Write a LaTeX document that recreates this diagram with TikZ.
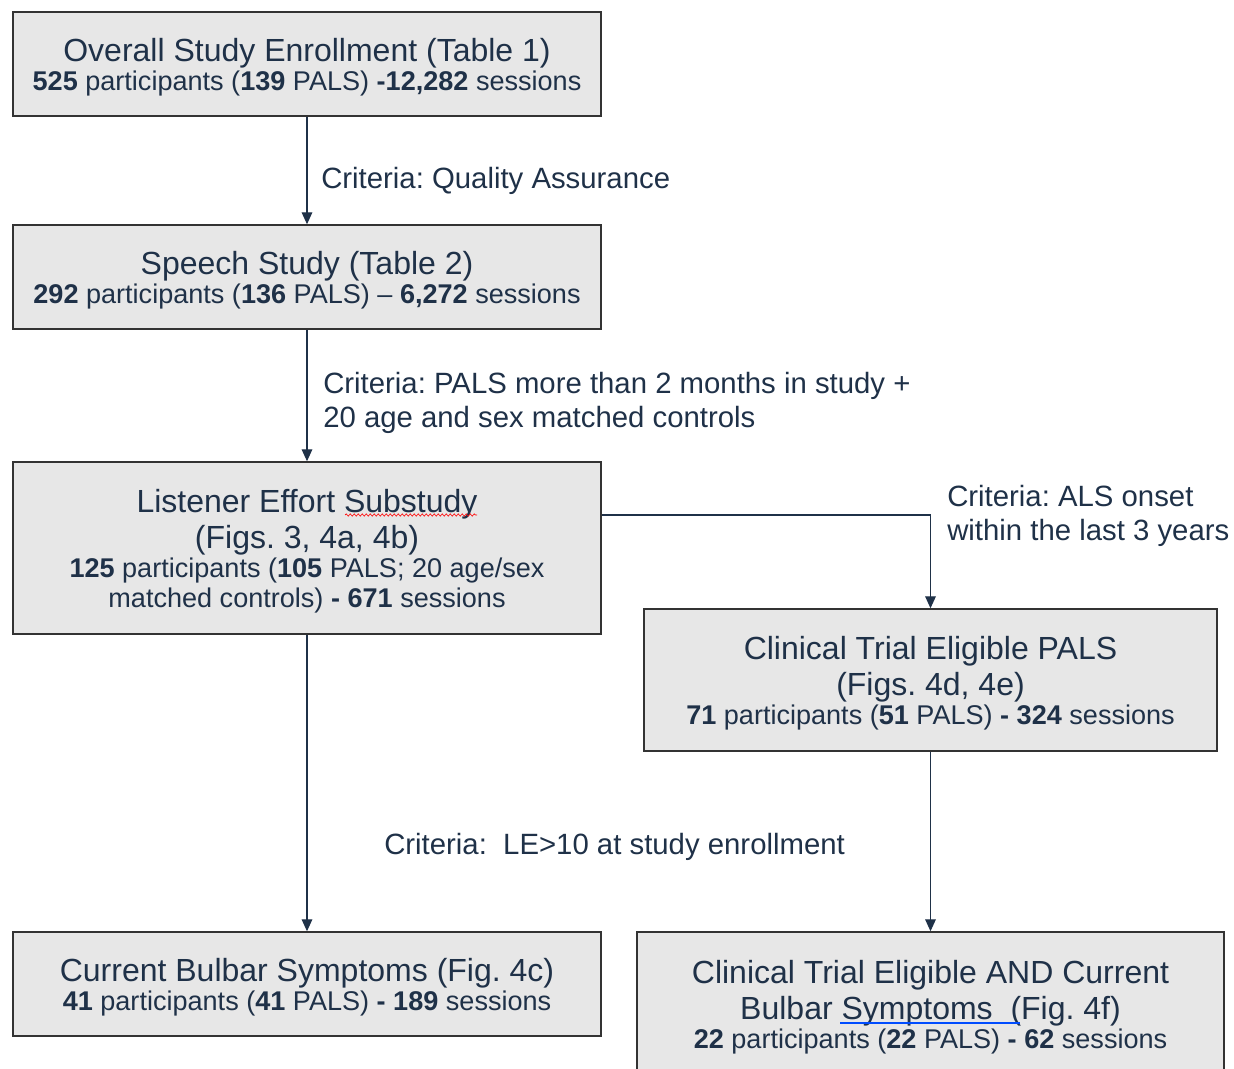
\documentclass[tikz,border=0pt]{standalone}
\usepackage{fontspec}
\setmainfont{Liberation Sans}
\usetikzlibrary{arrows.meta,decorations.pathmorphing}
\frenchspacing

\definecolor{navy}{HTML}{1F3148}
\definecolor{boxgray}{HTML}{E7E7E7}
\definecolor{edgegray}{HTML}{333333}

\newcommand{\boxhead}[1]{{\fontsize{24}{27}\selectfont #1}}
\newcommand{\topstrut}{\rule{0pt}{22pt}}

\tikzset{
  stage/.style={draw=edgegray, line width=1.1pt, fill=boxgray, text=navy,
    align=center, inner sep=0pt, font=\fontsize{20.3}{22.5}\selectfont},
  flow/.style={navy, line width=0.9pt, -{Triangle[length=9pt,width=8pt]}},
  crit/.style={text=navy, anchor=west, align=left, inner sep=0pt,
    font=\fontsize{22}{25.5}\selectfont}
}

\begin{document}
\begin{tikzpicture}[x=0.75pt,y=-0.75pt]
  \useasboundingbox (0,0) rectangle (1234,1069);

  % left column
  \node[stage, minimum width=441pt, minimum height=78pt] (ovr) at (307,64)
    {\topstrut\boxhead{Overall Study Enrollment (Table 1)}\\[-1pt]
     \textbf{525} participants (\textbf{139} PALS) \textbf{-12,282} sessions};
  \node[stage, minimum width=441pt, minimum height=78pt] (spch) at (307,277)
    {\topstrut\boxhead{Speech Study (Table 2)}\\[-1pt]
     \textbf{292} participants (\textbf{136} PALS) -- \textbf{6,272} sessions};
  \node[stage, minimum width=441pt, minimum height=129pt] (lis) at (307,548)
    {\topstrut\boxhead{Listener Effort Substudy}\\[5pt]
     \boxhead{(Figs. 3, 4a, 4b)}\\[-1pt]
     \textbf{125} participants (\textbf{105} PALS; 20 age/sex\\
     matched controls) \textbf{-} \textbf{671} sessions};
  \node[stage, minimum width=441pt, minimum height=78pt] (blb) at (307,984)
    {\topstrut\boxhead{Current Bulbar Symptoms (Fig. 4c)}\\[-1pt]
     \textbf{41} participants (\textbf{41} PALS) \textbf{-} \textbf{189} sessions};

  % right column
  \node[stage, minimum width=429.75pt, minimum height=106.5pt] (clin) at (930.5,680)
    {\topstrut\boxhead{Clinical Trial Eligible PALS}\\[5pt]
     \boxhead{(Figs. 4d, 4e)}\\[-1pt]
     \textbf{71} participants (\textbf{51} PALS) \textbf{-} \textbf{324} sessions};
  \node[stage, minimum width=440.25pt, minimum height=108pt] (both) at (930.5,1004)
    {\topstrut\boxhead{Clinical Trial Eligible AND Current}\\[5pt]
     \boxhead{Bulbar Symptoms\ \ (Fig. 4f)}\\[-1pt]
     \textbf{22} participants (\textbf{22} PALS) \textbf{-} \textbf{62} sessions};

  % criteria
  \node[crit] (qa) at (321,181) {Criteria: Quality Assurance};
  \node[crit] (pm) at (323,403) {Criteria: PALS more than 2 months in study +\\
    20 age and sex matched controls};
  \node[crit] (on) at (947,516) {Criteria: ALS onset\\within the last 3 years};
  \node[crit] (le) at (384,847) {Criteria:\ \ LE>10 at study enrollment};

  % connectors
  \draw[flow] (ovr) -- (spch);
  \draw[flow] (spch) -- (lis);
  \draw[flow] (lis) -- (blb);
  \draw[flow] ([yshift=24.75pt]lis.east) -| (clin.north);
  \draw[flow] (clin) -- (both);

  % spelling marks
  \draw[red, line width=0.5pt, decorate,
    decoration={snake, amplitude=0.8pt, segment length=3pt}] (345,515) -- (477,515);
  \draw[blue!70!cyan, line width=0.8pt] (840,1023) -- (1020,1023);
\end{tikzpicture}
\end{document}
